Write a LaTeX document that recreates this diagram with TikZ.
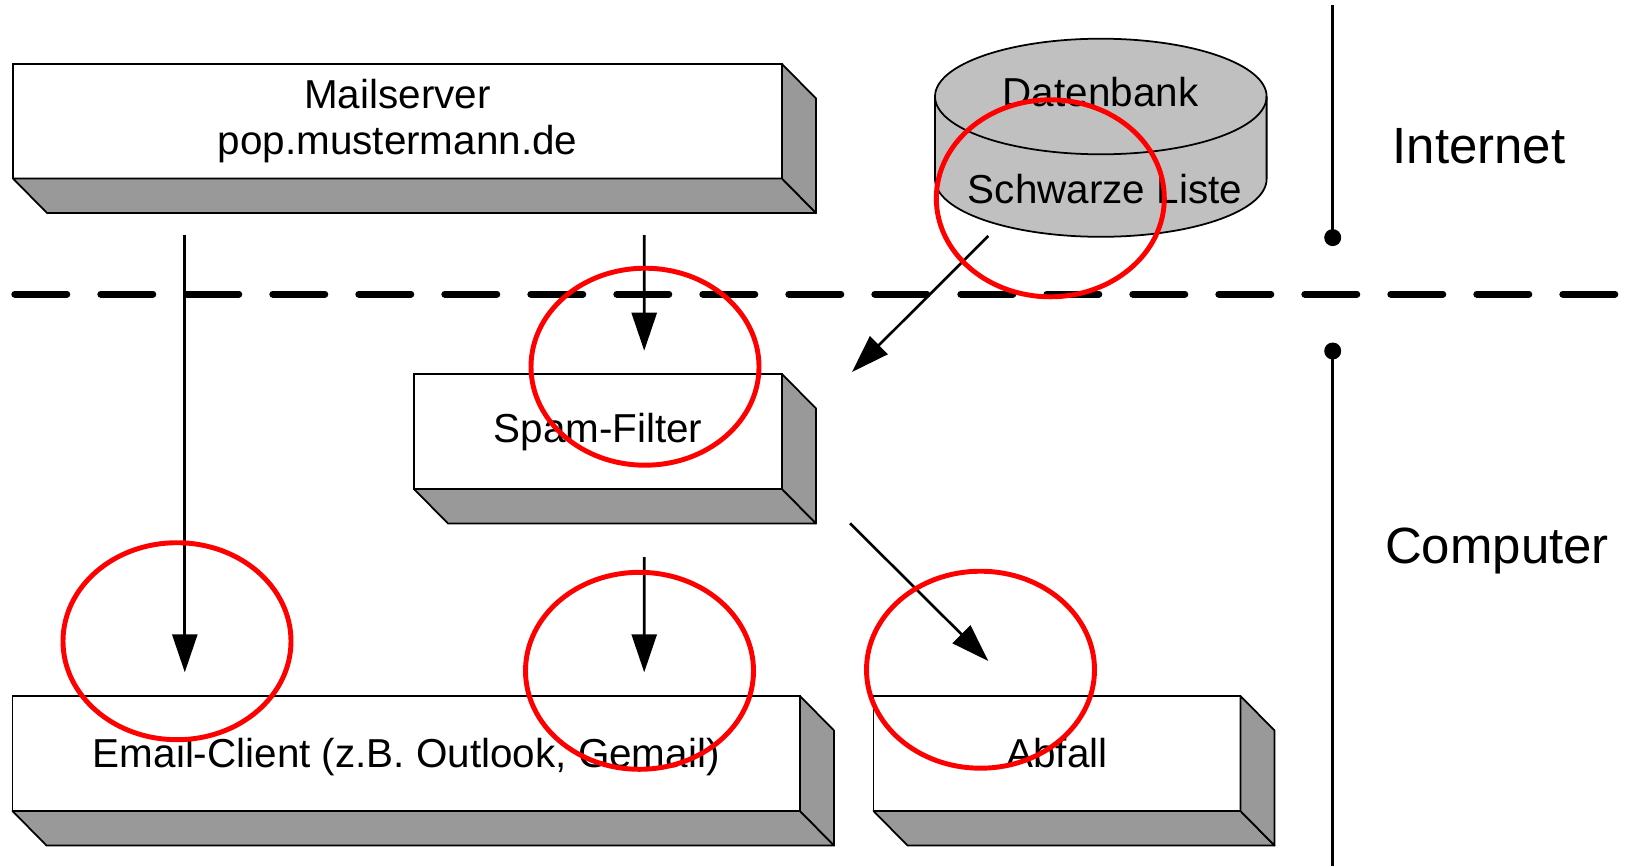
\documentclass[tikz,border=0pt]{standalone}
\usepackage{fontspec}
\setmainfont{Liberation Sans}
\usetikzlibrary{arrows.meta}
\definecolor{seitengrau}{HTML}{999999}
\definecolor{tonnengrau}{HTML}{C0C0C0}

\begin{document}
\begin{tikzpicture}[
    font=\fontsize{11.5}{13}\selectfont,
    kasten/.style={draw,fill=white,line width=0.5pt,inner sep=0pt,outer sep=0pt,
      minimum height=1.15cm,align=center},
    einzeilig/.style={text height=0.8em,text depth=0.18em},
    seite/.style={draw,fill=seitengrau,line width=0.5pt,line join=round},
    pfeil/.style={-{Triangle[length=3.8mm,width=2.5mm]},line width=0.75pt},
    kringel/.style={draw=red,line width=1.4pt},
    grenze/.style={line width=0.8pt},
    bereich/.style={font=\fontsize{14.5}{16}\selectfont,anchor=base}]

  \useasboundingbox (0,0) rectangle (16.29,-8.66);

  % ---- Grenze Internet / Computer -------------------------------------------
  \draw[line width=0.7mm,line cap=round,dash pattern=on 5.2mm off 3.4mm]
    (0.148,-2.94) -- (16.21,-2.94);
  \draw[grenze] (13.327,-0.055) -- (13.327,-2.376);
  \fill (13.327,-2.376) circle[radius=0.085];
  \fill (13.327,-3.51) circle[radius=0.085];
  \draw[grenze] (13.327,-3.51) -- (13.327,-8.66);
  \node[bereich] (internet) at (14.79,-1.63) {Internet};
  \node[bereich] (computer) at (14.97,-5.635) {Computer};

  % ---- Kaesten mit Tiefe -----------------------------------------------------
  \node[kasten,minimum width=7.69cm,minimum height=1.145cm] (mailserver)
    at (3.975,-1.2125) {Mailserver\\pop.mustermann.de};
  \node[kasten,einzeilig,minimum width=3.68cm] (spamfilter) at (5.98,-4.315) {Spam-Filter};
  \node[kasten,einzeilig,text depth=0pt,minimum width=7.875cm] (client) at (4.0625,-7.535)
    {Email-Client (z.B. Outlook, Gemail)};
  \node[kasten,einzeilig,text depth=0pt,minimum width=3.67cm] (abfall) at (10.57,-7.535) {Abfall};
  \foreach \k in {mailserver,spamfilter,client,abfall}{
    \draw[seite] (\k.south west) -- (\k.south east) -- ++(0.34,-0.345)
      -- ([shift={(0.34,-0.345)}]\k.south west) -- cycle;
    \draw[seite] (\k.north east) -- ++(0.34,-0.345)
      -- ([shift={(0.34,-0.345)}]\k.south east) -- (\k.south east) -- cycle;
  }

  % ---- Datenbank (Tonne) -----------------------------------------------------
  \begin{scope}[shift={(11.008,0)}]
    \filldraw[fill=tonnengrau,line width=0.5pt] (-1.658,-0.965) -- (-1.658,-1.79)
      arc[start angle=180,end angle=360,x radius=1.658,y radius=0.578]
      -- (1.658,-0.965)
      arc[start angle=0,end angle=180,x radius=1.658,y radius=0.578] -- cycle;
    \draw[line width=0.5pt] (-1.658,-0.965)
      arc[start angle=180,end angle=360,x radius=1.658,y radius=0.578];
  \end{scope}
  \node[anchor=base] (datenbank) at (11.005,-1.06) {Datenbank};
  \node[anchor=base] (liste) at (11.05,-2.033) {Schwarze Liste};
  \coordinate (liste-ab) at (9.883,-2.36);

  % ---- Pfeile ----------------------------------------------------------------
  \draw[pfeil,shorten <=5.65mm,shorten >=2.37mm]
    ([xshift=1.718cm]mailserver.south west) -- ([xshift=1.723cm]client.north west);
  \draw[pfeil,shorten <=5.65mm,shorten >=2.33mm]
    ([xshift=6.312cm]mailserver.south west) -- ([xshift=2.302cm]spamfilter.north west);
  \draw[pfeil,shorten <=6.8mm,shorten >=2.37mm]
    ([xshift=2.302cm]spamfilter.south west) -- ([xshift=6.317cm]client.north west);
  \draw[pfeil] (liste-ab) -- ([shift={(0.70,0.02)}]spamfilter.north east);
  \draw[pfeil] ([shift={(0.68,-0.343)}]spamfilter.south east)
    -- ([shift={(1.148,0.35)}]abfall.north west);

  % ---- rote Markierungen -----------------------------------------------------
  \foreach \x/\y in {1.77/-6.412,6.45/-3.667,6.395/-6.708,10.503/-1.983,9.805/-6.697}
    \draw[kringel] (\x,\y) ellipse[x radius=1.14,y radius=0.985];

\end{tikzpicture}
\end{document}
